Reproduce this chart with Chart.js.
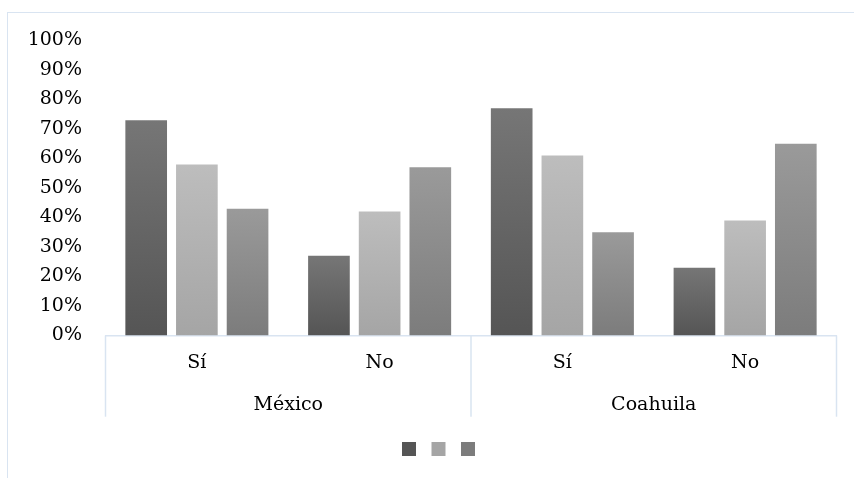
<!DOCTYPE html>
<html lang="es">
<head>
<meta charset="utf-8">
<title>Gráfica</title>
<script src="https://cdn.jsdelivr.net/npm/chart.js@4.4.1/dist/chart.umd.min.js"></script>
<style>
  html, body { margin: 0; padding: 0; background: #fff; overflow: hidden; }
  #wrap { position: relative; width: 854px; height: 478px; }
  #frame {
    position: absolute; left: 7px; top: 12px;
    width: 900px; height: 500px;
    border: 1px solid #d9e4f1;
  }
  #myChart { position: absolute; left: 0; top: 0; }
</style>
</head>
<body>
<div id="wrap">
  <div id="frame"></div>
  <canvas id="myChart" width="854" height="478"></canvas>
</div>
<script>
// categorías (nivel interno y externo)
const categorias = ['Sí', 'No', 'Sí', 'No'];
const regiones = ['México', 'Coahuila'];

// porcentajes por serie
const serie1 = [73, 27, 77, 23];
const serie2 = [58, 42, 61, 39];
const serie3 = [43, 57, 35, 65];

const lineaAzul = '#d9e4f1';

// degradado vertical por barra (claro arriba, oscuro abajo)
function relleno(arriba, abajo, plano) {
  return function (c) {
    const chart = c.chart;
    if (c.type !== 'data' || !chart.chartArea || !chart.scales.y) return plano;
    const y = chart.scales.y;
    const y0 = y.getPixelForValue(c.parsed.y);
    const y1 = y.getPixelForValue(0);
    const g = chart.ctx.createLinearGradient(0, y0, 0, y1);
    g.addColorStop(0, arriba);
    g.addColorStop(1, abajo);
    return g;
  };
}

// líneas verticales que separan los grupos del eje
const separadores = {
  id: 'separadores',
  afterDraw(chart) {
    const x = chart.scales.x, x2 = chart.scales.x2;
    const c = chart.ctx;
    const medio = (x.getPixelForTick(1) + x.getPixelForTick(2)) / 2;
    c.save();
    c.strokeStyle = lineaAzul;
    c.lineWidth = 1.5;
    [x.left, medio, x.right].forEach(px => {
      c.beginPath();
      c.moveTo(px, x.top);
      c.lineTo(px, x2.top + 31.2);
      c.stroke();
    });
    c.restore();
  }
};

const fuente = { family: "'DejaVu Serif', serif", size: 19 };

const ctx = document.getElementById('myChart').getContext('2d');
const myChart = new Chart(ctx, {
  type: 'bar',
  data: {
    labels: categorias,
    datasets: [
      { label: '', data: serie1, backgroundColor: relleno('#767676', '#555555', '#656565') },
      { label: '', data: serie2, backgroundColor: relleno('#bdbdbd', '#a5a5a5', '#b1b1b1') },
      { label: '', data: serie3, backgroundColor: relleno('#9a9a9a', '#7c7c7c', '#8b8b8b') }
    ]
  },
  options: {
    responsive: false,
    animation: false,
    categoryPercentage: 0.832,
    barPercentage: 0.822,
    layout: { padding: { left: 25, right: 17.5, top: 40.5, bottom: 3.5 } },
    scales: {
      x: {
        type: 'category',
        grid: { display: false, drawTicks: false },
        border: { display: true, color: lineaAzul, width: 1.5 },
        ticks: { color: '#000', font: fuente, padding: 16.4 },
        afterFit: s => { s.height = 50; }
      },
      x2: {
        type: 'category',
        position: 'bottom',
        weight: 1,
        labels: regiones,
        offset: true,
        grid: { display: false, drawTicks: false },
        border: { display: false },
        ticks: { color: '#000', font: fuente, padding: 8.1 },
        afterFit: s => { s.height = 48; }
      },
      y: {
        min: 0,
        max: 100,
        grid: { display: false, drawTicks: false },
        border: { display: false },
        ticks: {
          stepSize: 10,
          color: '#000',
          font: fuente,
          padding: 23.5,
          callback: v => v + '%'
        },
        afterFit: s => { s.width = 80.5; }
      }
    },
    plugins: {
      legend: {
        display: true,
        position: 'bottom',
        rtl: true,
        reverse: true,
        labels: {
          boxWidth: 14,
          boxHeight: 14,
          padding: 0,
          font: { size: 31 }
        }
      },
      tooltip: { enabled: false }
    }
  },
  plugins: [separadores]
});
</script>
</body>
</html>
